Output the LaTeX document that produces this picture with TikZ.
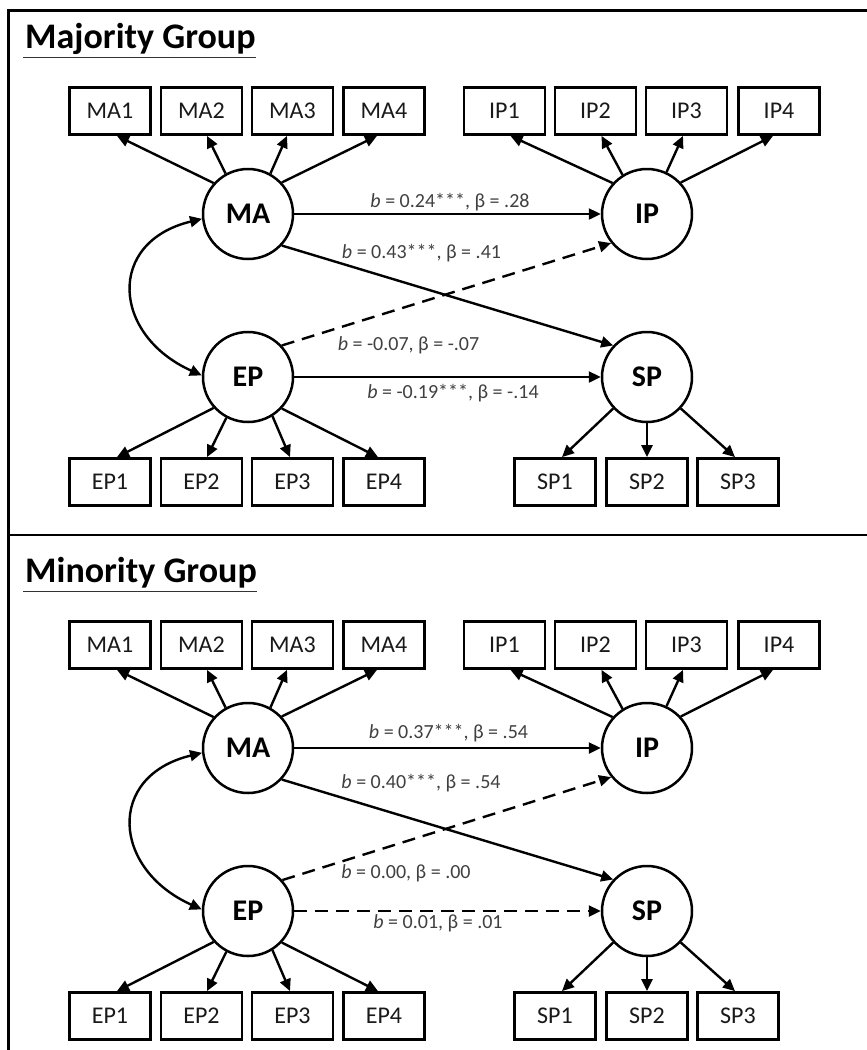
\documentclass[tikz,border=0pt]{standalone}
\usepackage{fontspec}
\setmainfont{Carlito}
\usetikzlibrary{arrows.meta}

\tikzset{
  ind/.style={draw, line width=2.8pt, minimum width=81pt, minimum height=47pt,
    inner sep=0pt, text=black!90, font=\fontsize{24}{28}\selectfont},
  lat/.style={draw, circle, line width=2.5pt, minimum size=90pt, inner sep=0pt,
    font=\bfseries\fontsize{30}{34}\selectfont},
  arr/.style={line width=2.4pt, -{Triangle[length=12pt,width=11pt]}},
  biarr/.style={line width=2.4pt,
    {Triangle[length=12pt,width=11pt]}-{Triangle[length=12pt,width=11pt]}},
  dsh/.style={dash pattern=on 13pt off 8pt},
  coef/.style={anchor=base, inner sep=0pt, text=black!75,
    font=\fontsize{20}{24}\selectfont},
  ttl/.style={anchor=base west, inner sep=0pt,
    font=\bfseries\fontsize{36}{40}\selectfont},
  frame/.style={line width=2.8pt},
}

% latent factors, indicators, loadings and the MA--EP covariance
\newcommand\semcore[2]{%
  \node[ttl] (#1T) at (25,48.3) {#2};
  \draw[line width=1.6pt, black!80] ([xshift=-2pt,yshift=-9pt]#1T.base west) -- ([yshift=-9pt]#1T.base east);
  \node[lat] (#1MA) at (248,214) {MA};
  \node[lat] (#1IP) at (647,214) {IP};
  \node[lat] (#1EP) at (248,377) {EP};
  \node[lat] (#1SP) at (647,377) {SP};
  \node[ind] (#1MA1) at (110,111) {MA1};
  \node[ind] (#1MA2) at (201.5,111) {MA2};
  \node[ind] (#1MA3) at (292.5,111) {MA3};
  \node[ind] (#1MA4) at (384,111) {MA4};
  \node[ind] (#1IP1) at (504.5,111) {IP1};
  \node[ind] (#1IP2) at (595.5,111) {IP2};
  \node[ind] (#1IP3) at (686.5,111) {IP3};
  \node[ind] (#1IP4) at (779,111) {IP4};
  \node[ind] (#1EP1) at (110,482) {EP1};
  \node[ind] (#1EP2) at (201.5,482) {EP2};
  \node[ind] (#1EP3) at (292.5,482) {EP3};
  \node[ind] (#1EP4) at (384,482) {EP4};
  \node[ind] (#1SP1) at (555,482) {SP1};
  \node[ind] (#1SP2) at (647,482) {SP2};
  \node[ind] (#1SP3) at (738,482) {SP3};
  \draw[arr] (#1MA.138) -- ([xshift=7pt]#1MA1.south);
  \draw[arr] (#1MA.119) -- ([xshift=5.5pt]#1MA2.south);
  \draw[arr] (#1MA.61) -- ([xshift=-5.5pt]#1MA3.south);
  \draw[arr] (#1MA.43) -- ([xshift=-7pt]#1MA4.south);
  \draw[arr] (#1IP.138) -- ([xshift=6pt]#1IP1.south);
  \draw[arr] (#1IP.122) -- ([xshift=6pt]#1IP2.south);
  \draw[arr] (#1IP.65) -- ([xshift=-3.5pt]#1IP3.south);
  \draw[arr] (#1IP.43) -- ([xshift=-6pt]#1IP4.south);
  \draw[arr] (#1EP.222) -- ([xshift=7pt]#1EP1.north);
  \draw[arr] (#1EP.242) -- ([xshift=5.5pt]#1EP2.north);
  \draw[arr] (#1EP.302) -- ([xshift=-2.5pt]#1EP3.north);
  \draw[arr] (#1EP.317) -- ([xshift=-6pt]#1EP4.north);
  \draw[arr] (#1SP.223) -- ([xshift=7pt]#1SP1.north);
  \draw[arr] (#1SP.270) -- (#1SP2.north);
  \draw[arr] (#1SP.317) -- ([xshift=-3pt]#1SP3.north);
  \draw[biarr] (#1MA.186) .. controls (106,242) and (112,335) .. (#1EP.178);
  \draw[arr] (#1MA.east) -- (#1IP.west);
  \draw[arr] (#1MA.-43) -- (#1SP.137);
}

\begin{document}
\begin{tikzpicture}[x=1pt, y=-1pt]
  \useasboundingbox (0,0) rectangle (867,1050);
  \fill[white] (0,0) rectangle (867,1050);

  % panel frame
  \draw[frame] (8.3,1050) -- (8.3,10.7) -- (867,10.7);
  \draw[frame] (8.3,535) -- (867,535);

  % majority group
  \semcore{a}{Majority Group}
  \draw[arr, dsh] (aEP.43) -- (aIP.-141);
  \draw[arr] (aEP.east) -- (aSP.west);
  \node[coef] (aL1) at (450,207) {\textit{b} = 0.24***, β = .28};
  \node[coef] (aL2) at (421.5,258) {\textit{b} = 0.43***, β = .41};
  \node[coef] (aL3) at (408.5,350) {\textit{b} = -0.07, β = -.07};
  \node[coef] (aL4) at (453,398) {\textit{b} = -0.19***, β = -.14};

  % minority group
  \begin{scope}[yshift=-534pt]
    \semcore{b}{Minority Group}
    \draw[arr, dsh] (bEP.42) -- (bIP.-141);
    \draw[arr, dsh] (bEP.east) -- (bSP.west);
    \node[coef] (bL1) at (448.5,204.5) {\textit{b} = 0.37***, β = .54};
    \node[coef] (bL2) at (421,254.5) {\textit{b} = 0.40***, β = .54};
    \node[coef] (bL3) at (406,344.5) {\textit{b} = 0.00, β = .00};
    \node[coef] (bL4) at (438,394.5) {\textit{b} = 0.01, β = .01};
  \end{scope}
\end{tikzpicture}
\end{document}
